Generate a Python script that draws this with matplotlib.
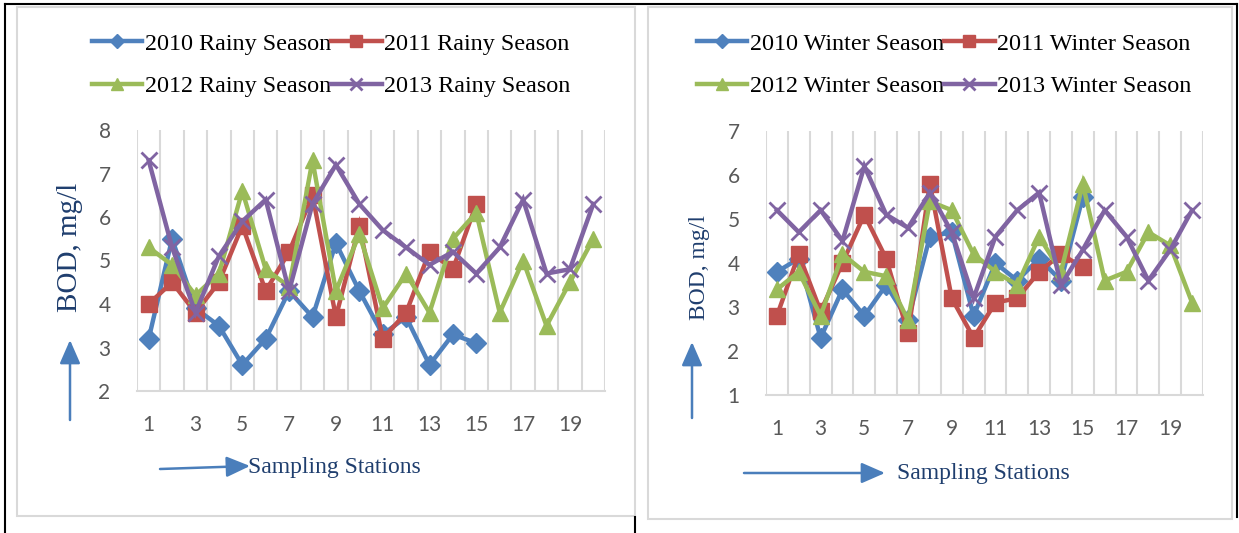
import matplotlib
matplotlib.use("Agg")
import matplotlib.pyplot as plt
import numpy as np
from matplotlib.patches import Rectangle, FancyArrowPatch
from matplotlib.lines import Line2D

# sampling stations 1..20
stations = list(range(1, 21))

# BOD, mg/l - rainy season
rainy_2010 = [3.2, 5.5, 3.9, 3.5, 2.6, 3.2, 4.3, 3.7, 5.4, 4.3, 3.3, 3.7, 2.6, 3.3, 3.1]
rainy_2011 = [4.0, 4.5, 3.8, 4.5, 5.8, 4.3, 5.2, 6.5, 3.7, 5.8, 3.2, 3.8, 5.2, 4.8, 6.3]
rainy_2012 = [5.3, 4.9, 4.2, 4.7, 6.6, 4.8, 4.4, 7.3, 4.3, 5.6, 3.9, 4.7, 3.8, 5.5, 6.1,
              3.8, 5.0, 3.5, 4.5, 5.5]
rainy_2013 = [7.3, 5.3, 3.8, 5.1, 5.9, 6.4, 4.3, 6.3, 7.2, 6.3, 5.7, 5.3, 4.9, 5.2, 4.7,
              5.3, 6.4, 4.7, 4.8, 6.3]

# BOD, mg/l - winter season
winter_2010 = [3.8, 4.1, 2.3, 3.4, 2.8, 3.5, 2.7, 4.6, 4.7, 2.8, 4.0, 3.6, 4.1, 3.6, 5.5]
winter_2011 = [2.8, 4.2, 2.9, 4.0, 5.1, 4.1, 2.4, 5.8, 3.2, 2.3, 3.1, 3.2, 3.8, 4.2, 3.9]
winter_2012 = [3.4, 3.8, 2.8, 4.2, 3.8, 3.7, 2.7, 5.4, 5.2, 4.2, 3.8, 3.5, 4.6, 3.8, 5.8,
               3.6, 3.8, 4.7, 4.4, 3.1]
winter_2013 = [5.2, 4.7, 5.2, 4.5, 6.2, 5.1, 4.8, 5.6, 4.7, 3.2, 4.6, 5.2, 5.6, 3.5, 4.3,
               5.2, 4.6, 3.6, 4.3, 5.2]

rainy_labels = ["2010 Rainy Season", "2011 Rainy Season", "2012 Rainy Season", "2013 Rainy Season"]
winter_labels = ["2010 Winter Season", "2011 Winter Season", "2012 Winter Season", "2013 Winter Season"]

colors = ["#4F81BD", "#C0504D", "#9BBB59", "#8064A2"]
markers = ["D", "s", "^", "x"]
msizes = [10, 11, 12, 12]

W, H = 1239, 533
fig = plt.figure(figsize=(W / 100, H / 100), dpi=100)


def fx(px):
    return px / W


def fy(py):
    return 1 - py / H


serif = "Liberation Serif"
tick_font = "Lato"
label_blue = "#1F3E6E"
arrow_blue = "#4A7EBB"
grid_gray = "#D9D9D9"


def draw_panel(rect, series, labels, ylim, legend_center):
    ax = fig.add_axes(rect)
    for vals, lab, c, m, ms in zip(series, labels, colors, markers, msizes):
        ax.plot(stations[:len(vals)], vals, color=c, lw=3.2, marker=m, ms=ms,
                mec=c, mfc=c, mew=2 if m == "x" else 1, label=lab,
                solid_joinstyle="miter")
    ax.set_xlim(0.5, 20.5)
    ax.set_ylim(*ylim)
    ax.set_xticks(range(1, 20, 2))
    ax.set_xticks(np.arange(0.5, 21, 1), minor=True)
    ax.set_yticks(range(ylim[0], ylim[1] + 1))
    ax.tick_params(axis="both", which="both", length=0, labelsize=15,
                   labelcolor="#595959")
    ax.tick_params(axis="y", pad=19)
    ax.tick_params(axis="x", pad=17)
    for t in ax.get_xticklabels() + ax.get_yticklabels():
        t.set_fontfamily(tick_font)
    ax.grid(True, which="minor", axis="x", color=grid_gray, lw=1.5)
    ax.grid(False, which="major")
    for s in ["top", "right", "left"]:
        ax.spines[s].set_visible(False)
    ax.spines["bottom"].set_color(grid_gray)
    ax.spines["bottom"].set_linewidth(1.5)
    ax.set_axisbelow(True)

    handles = [Line2D([], [], color=c, lw=3.2, marker=m, ms=ms * 0.75, mec=c, mfc=c,
                      mew=2 if m == "x" else 1)
               for c, m, ms in zip(colors, markers, msizes)]
    # legend fills row by row in the source, matplotlib fills by column
    order = [0, 2, 1, 3]
    fig.legend([handles[i] for i in order], [labels[i] for i in order],
               loc="center", ncol=2,
               bbox_to_anchor=(fx(legend_center[0]), fy(legend_center[1])),
               frameon=False, prop={"family": serif, "size": 17.4},
               handlelength=2.1, handletextpad=0.1, columnspacing=0.0,
               labelspacing=0.85)
    return ax


ax1 = draw_panel([fx(137), fy(391), fx(605) - fx(137), fy(130) - fy(391)],
                 [rainy_2010, rainy_2011, rainy_2012, rainy_2013], rainy_labels,
                 (2, 8), (331, 65))
ax2 = draw_panel([fx(766), fy(395), fx(1203) - fx(766), fy(131) - fy(395)],
                 [winter_2010, winter_2011, winter_2012, winter_2013], winter_labels,
                 (1, 7), (944, 65))

# axis titles drawn as free text with arrows, as in the source document
fig.text(fx(70), fy(247), "BOD, mg/l", rotation=90, ha="center", va="center",
         family=serif, size=21, color=label_blue)
fig.text(fx(700), fy(267), "BOD, mg/l", rotation=90, ha="center", va="center",
         family=serif, size=17, color=label_blue)
fig.text(fx(248), fy(467), "Sampling Stations", ha="left", va="center",
         family=serif, size=17, color=label_blue)
fig.text(fx(897), fy(473), "Sampling Stations", ha="left", va="center",
         family=serif, size=17, color=label_blue)

for (x0, y0), (x1, y1) in [((70, 420), (70, 340)), ((160, 469), (250, 466)),
                           ((692, 418), (692, 342)), ((744, 473), (885, 473))]:
    fig.add_artist(FancyArrowPatch(
        (fx(x0), fy(y0)), (fx(x1), fy(y1)), transform=fig.transFigure,
        arrowstyle="-|>,head_length=0.8,head_width=0.35", mutation_scale=18,
        color=arrow_blue, lw=1.8, shrinkA=0, shrinkB=0))

# document frame lines
fig.add_artist(Rectangle((fx(17), fy(516)), fx(635) - fx(17), fy(7) - fy(516),
                         transform=fig.transFigure, fill=False, ec=grid_gray, lw=1.5))
fig.add_artist(Rectangle((fx(648), fy(519)), fx(1232) - fx(648), fy(7) - fy(519),
                         transform=fig.transFigure, fill=False, ec=grid_gray, lw=1.5))
for xs, ys in [((5, 1237), (4, 4)), ((5, 5), (4, 533)), ((635, 635), (517, 533)),
               ((1237, 1237), (4, 517))]:
    fig.add_artist(Line2D([fx(xs[0]), fx(xs[1])], [fy(ys[0]), fy(ys[1])],
                          transform=fig.transFigure, color="black", lw=1.5))

fig.savefig("out.png", dpi=100)
